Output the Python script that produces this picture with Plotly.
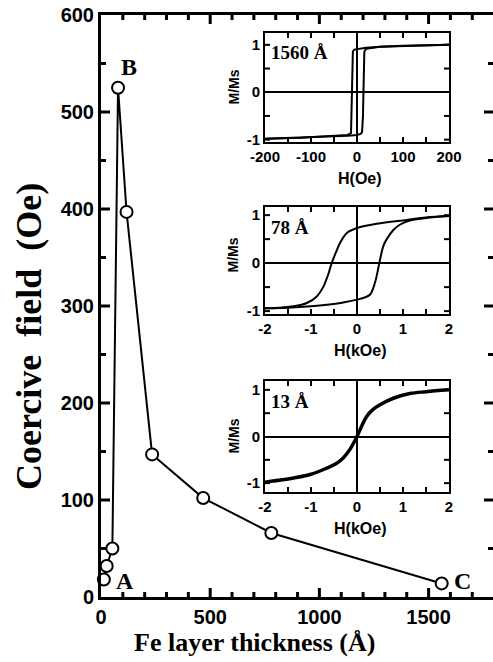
import plotly.graph_objects as go

# ---------------- data ----------------
thickness = [13, 26, 52, 78, 117, 234, 468, 780, 1560]          # Fe layer thickness (Å)
coercive = [18, 32, 50, 525, 397, 147, 102, 66, 14]             # coercive field (Oe)

# 1560 Å loop (H in Oe)
h1560_dn = [200, 150, 100, 50, 20, 0, -6, -9, -10, -11, -12, -13, -20, -60, -120, -200]
m1560_dn = [1.00, 0.99, 0.98, 0.96, 0.94, 0.92, 0.90, 0.86, 0.55, 0.0, -0.55, -0.86, -0.90, -0.93, -0.96, -0.98]
h1560_up = [-200, -120, -60, -20, 0, 8, 11, 13, 14, 15, 16, 20, 50, 100, 200]
m1560_up = [-0.98, -0.96, -0.94, -0.92, -0.90, -0.88, -0.84, -0.5, 0.0, 0.5, 0.86, 0.92, 0.96, 0.98, 1.00]

# 78 Å loop (H in kOe)
h78_dn = [2.0, 1.5, 1.08, 0.43, 0.0, -0.22, -0.37, -0.46, -0.55, -0.62, -0.67, -0.73, -0.88, -1.09, -1.38, -1.7, -2.0]
m78_dn = [0.98, 0.95, 0.90, 0.82, 0.73, 0.63, 0.42, 0.22, 0.0, -0.22, -0.35, -0.49, -0.70, -0.83, -0.90, -0.93, -0.94]
h78_up = [-2.0, -1.5, -1.0, -0.6, -0.3, 0.0, 0.15, 0.28, 0.39, 0.485, 0.57, 0.64, 0.79, 0.93, 1.15, 1.5, 2.0]
m78_up = [-0.94, -0.93, -0.90, -0.86, -0.82, -0.76, -0.72, -0.66, -0.41, 0.0, 0.35, 0.49, 0.69, 0.80, 0.89, 0.94, 0.98]

# 13 Å curve (H in kOe)
h13 = [-2.0, -1.7, -1.38, -1.0, -0.66, -0.45, -0.30, -0.15, 0.0, 0.10, 0.21, 0.35, 0.50, 0.79, 1.15, 1.5, 2.0]
m13 = [-0.98, -0.94, -0.89, -0.81, -0.68, -0.58, -0.46, -0.27, 0.0, 0.22, 0.43, 0.58, 0.68, 0.82, 0.92, 0.96, 1.00]

inset_labels = ["1560 Å", "78 Å", "13 Å"]
inset_xtitles = ["H(Oe)", "H(kOe)", "H(kOe)"]
oe_ticks = [-200, -100, 0, 100, 200]
oe_minor = [-150, -50, 50, 150]
koe_ticks = [-2, -1, 0, 1, 2]
koe_minor = [-1.5, -0.5, 0.5, 1.5]
m_ticks = [-1, 0, 1]
m_minor = [-0.5, 0.5]
main_x_major = [0, 500, 1000, 1500]
main_x_minor = [100, 200, 300, 400, 600, 700, 800, 900, 1100, 1200, 1300, 1400, 1600, 1700]
main_y_major = [0, 100, 200, 300, 400, 500, 600]
main_y_minor = [50, 150, 250, 350, 450, 550]

# ---------------- layout helpers ----------------
W, H = 493, 662
L, R, T, B = 101, 0, 15, 65
PW, PH = W - L - R, H - T - B


def px2x(px):
    return (px - L) / PW


def py2y(py):
    return (H - B - py) / PH


SANS = "Liberation Sans"
SERIF = "Liberation Serif"

fig = go.Figure()
layout = dict(
    template="none",
    width=W, height=H,
    margin=dict(l=L, r=R, t=T, b=B, pad=0, autoexpand=False),
    paper_bgcolor="white", plot_bgcolor="white",
    showlegend=False,
)
shapes = []


def add_ticks(xa, ya, xmaj, xmin, ymaj, ymin, majlen, minlen, width, skip_x=(), skip_y=()):
    """Inward tick marks on all four sides, placed through the axes' own scales."""
    for vals, ln in ((xmaj, majlen), (xmin, minlen)):
        for v in vals:
            if v in skip_x:
                continue
            for anchor, sgn in ((0, 1), (1, -1)):
                shapes.append(dict(type="line", xref=xa, yref=f"{ya} domain", ysizemode="pixel",
                                   yanchor=anchor, x0=v, x1=v, y0=0, y1=sgn * ln,
                                   line=dict(color="black", width=width), layer="above"))
    for vals, ln in ((ymaj, majlen), (ymin, minlen)):
        for v in vals:
            if v in skip_y:
                continue
            for anchor, sgn in ((0, 1), (1, -1)):
                shapes.append(dict(type="line", xref=f"{xa} domain", yref=ya, xsizemode="pixel",
                                   xanchor=anchor, x0=0, x1=sgn * ln, y0=v, y1=v,
                                   line=dict(color="black", width=width), layer="above"))


# main curve
fig.add_trace(go.Scatter(
    x=thickness, y=coercive, mode="lines+markers",
    line=dict(color="black", width=2),
    marker=dict(symbol="circle", size=12, color="white", line=dict(color="black", width=2)),
    cliponaxis=False, showlegend=False, xaxis="x", yaxis="y"))

fig.add_trace(go.Scatter(x=h1560_dn, y=m1560_dn, xaxis="x3", yaxis="y3", mode="lines",
                         line=dict(color="black", width=2), showlegend=False))
fig.add_trace(go.Scatter(x=h1560_up, y=m1560_up, xaxis="x3", yaxis="y3", mode="lines",
                         line=dict(color="black", width=2), showlegend=False))
fig.add_trace(go.Scatter(x=h78_dn, y=m78_dn, xaxis="x4", yaxis="y4", mode="lines",
                         line=dict(color="black", width=2, shape="spline"), showlegend=False))
fig.add_trace(go.Scatter(x=h78_up, y=m78_up, xaxis="x4", yaxis="y4", mode="lines",
                         line=dict(color="black", width=2, shape="spline"), showlegend=False))
fig.add_trace(go.Scatter(x=h13, y=m13, xaxis="x5", yaxis="y5", mode="lines",
                         line=dict(color="black", width=3.5, shape="spline"), showlegend=False))

tickfont_main = dict(family=SANS, size=20, color="black", weight="bold")
main_x_range = [0, 1795]
main_y_range = [0, 600]

layout["xaxis"] = dict(range=main_x_range, domain=[0, 1], anchor="y", automargin=False,
                       showline=True, linewidth=3, linecolor="black", mirror=True,
                       ticks="", tickmode="array", tickvals=main_x_major,
                       ticktext=[str(v) for v in main_x_major],
                       showgrid=False, zeroline=False, tickfont=tickfont_main)
layout["yaxis"] = dict(range=main_y_range, domain=[0, 1], anchor="x", automargin=False,
                       showline=True, linewidth=3, linecolor="black", mirror=False,
                       ticks="", tickmode="array", tickvals=main_y_major,
                       ticktext=[str(v) for v in main_y_major],
                       showgrid=False, zeroline=False, tickfont=tickfont_main)
add_ticks("x", "y", main_x_major, main_x_minor, main_y_major, main_y_minor, 9, 5, 3,
          skip_x=(0,), skip_y=(0, 600))

inset_boxes = [(265, 449, 33, 142), (265, 449, 207, 314), (265, 449, 381, 492)]
inset_xr = [[-200, 200], [-2, 2], [-2, 2]]
inset_yr = [[-1.05, 1.25], [-1.06, 1.17], [-1.19, 1.19]]
inset_xt = [oe_ticks, koe_ticks, koe_ticks]
inset_xminor = [oe_minor, koe_minor, koe_minor]
tickfont_in = dict(family=SANS, size=15, color="black", weight="bold")

annotations = []
for i, (x0, x1, y0, y1) in enumerate(inset_boxes):
    n = i + 3
    layout[f"xaxis{n}"] = dict(
        domain=[px2x(x0), px2x(x1)], anchor=f"y{n}", range=inset_xr[i], automargin=False,
        showline=True, linewidth=2, linecolor="black", mirror=True, ticks="",
        tickmode="array", tickvals=inset_xt[i], ticktext=[str(v) for v in inset_xt[i]],
        tickfont=tickfont_in, showgrid=False,
        zeroline=True, zerolinewidth=2, zerolinecolor="black")
    layout[f"yaxis{n}"] = dict(
        domain=[py2y(y1), py2y(y0)], anchor=f"x{n}", range=inset_yr[i], automargin=False,
        showline=True, linewidth=2, linecolor="black", mirror=True, ticks="",
        tickmode="array", tickvals=m_ticks, ticktext=[str(v) for v in m_ticks],
        tickfont=tickfont_in, showgrid=False,
        zeroline=True, zerolinewidth=2, zerolinecolor="black")
    add_ticks(f"x{n}", f"y{n}", inset_xt[i], inset_xminor[i], m_ticks, m_minor, 5, 5, 2,
              skip_x=(inset_xr[i][0], inset_xr[i][1], 0), skip_y=(0,))
    # sample label
    annotations.append(dict(text=inset_labels[i], xref="paper", yref="paper",
                            x=px2x(x0 + 4), y=py2y(y0 + 20), xanchor="left", yanchor="middle",
                            showarrow=False, font=dict(family=SERIF, size=19, color="black", weight="bold")))
    # M/Ms
    annotations.append(dict(text="M/Ms", xref="paper", yref="paper", textangle=-90,
                            x=px2x(233), y=py2y((y0 + y1) / 2 - (5 if i == 1 else 0)),
                            xanchor="center", yanchor="middle", showarrow=False,
                            font=dict(family=SANS, size=14, color="black", weight="bold")))
    # H title
    annotations.append(dict(text=inset_xtitles[i], xref="paper", yref="paper",
                            x=px2x(360), y=py2y(y1 + 36), xanchor="center", yanchor="middle",
                            showarrow=False, font=dict(family=SANS, size=16, color="black", weight="bold")))

# point letters
for txt, xx, yy in [("A", 110, 16), ("B", 128, 546), ("C", 1657, 17)]:
    annotations.append(dict(text=txt, xref="x", yref="y", x=xx, y=yy, showarrow=False,
                            xanchor="center", yanchor="middle",
                            font=dict(family=SERIF, size=24, color="black", weight="bold")))

# axis titles
annotations.append(dict(text="Fe layer thickness (Å)", xref="paper", yref="paper",
                        x=px2x(254), y=py2y(642), xanchor="center", yanchor="middle", showarrow=False,
                        font=dict(family=SERIF, size=26, color="black", weight="bold")))
annotations.append(dict(text="Coercive\u00a0\u00a0field\u00a0\u00a0(Oe)", xref="paper", yref="paper",
                        x=px2x(29), y=py2y(337), xanchor="center", yanchor="middle", textangle=-90,
                        showarrow=False,
                        font=dict(family=SERIF, size=36, color="black", weight="bold")))

layout["annotations"] = annotations
layout["shapes"] = shapes
fig.update_layout(**layout)
fig.write_html("out.html")
